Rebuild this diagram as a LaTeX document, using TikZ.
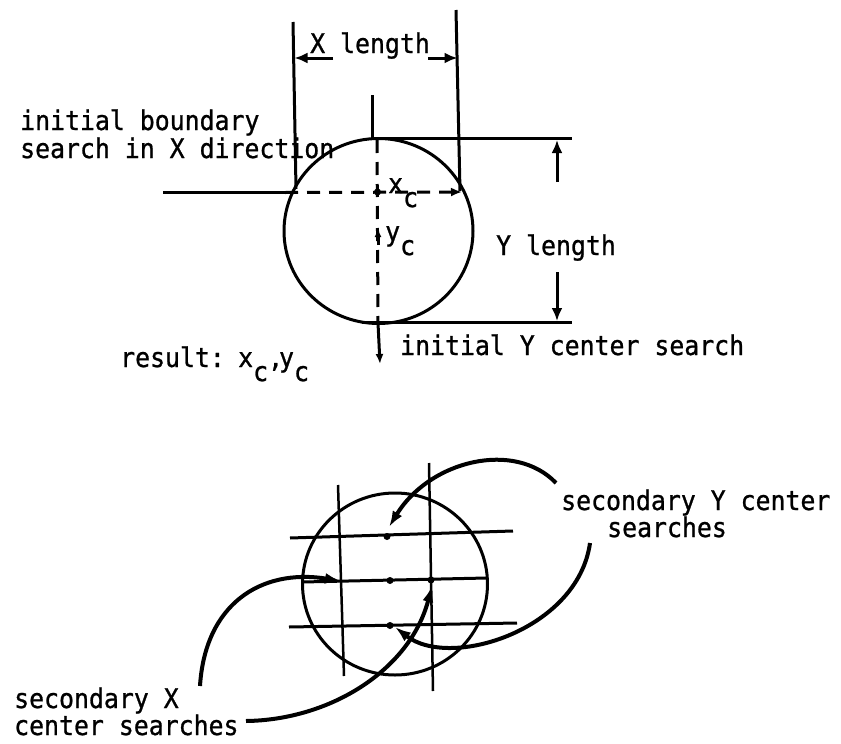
\documentclass[tikz,border=0pt]{standalone}
\usepackage{fontspec}
\newfontfamily\twfont[FakeStretch=0.92,FakeBold=0.9]{DejaVu Sans Mono}
\usetikzlibrary{arrows.meta}
\newcommand{\lowc}{\raisebox{-0.52em}{c}}
\begin{document}
\begin{tikzpicture}[x=1pt,y=-1pt,
  txt/.style={anchor=base west, inner sep=0pt, font=\twfont\fontsize{27}{30}\selectfont},
  ln/.style={line width=3pt},
  thinln/.style={line width=2.5pt},
  tip/.style={-{Latex[length=13pt,width=11pt]}},
  curvearr/.style={line width=4pt, -{Latex[length=16pt,width=11pt]}},
  dsh/.style={line width=3pt, dash pattern=on 13pt off 9pt}]
\useasboundingbox (0,0) rectangle (841,744);

% ---------- upper figure ----------
\coordinate (c1) at (378.5,231);
\draw[ln] (c1) ellipse [x radius=94.5, y radius=92.5];

\coordinate (xlt) at (293,22);  \coordinate (xlb) at (296,189);
\coordinate (xrt) at (456,10);  \coordinate (xrb) at (460,191);
\draw[ln] (xlt) -- (xlb);
\draw[ln] (xrt) -- (xrb);

\coordinate (xla) at (333,58); \coordinate (xlat) at (294.5,58);
\coordinate (xra) at (428,58); \coordinate (xrat) at (457.5,58);
\draw[ln,tip] (xla) -- (xlat);
\draw[ln,tip] (xra) -- (xrat);
\node[txt] (xlen) at (310,53) {X length};

\coordinate (tickt) at (372,95); \coordinate (tickb) at (372,138.5);
\draw[ln] (tickt) -- (tickb);
\coordinate (htl) at (372,138.5); \coordinate (htr) at (572,138.5);
\draw[ln] (htl) -- (htr);
\coordinate (hbl) at (362,322.5); \coordinate (hbr) at (572,322.5);
\draw[ln] (hbl) -- (hbr);

\coordinate (yua) at (557,182); \coordinate (yuat) at (557,140);
\coordinate (yda) at (557,272); \coordinate (ydat) at (557,321);
\draw[ln,tip] (yua) -- (yuat);
\draw[ln,tip] (yda) -- (ydat);
\node[txt] (ylen) at (496,255) {Y length};

\coordinate (bs0) at (163,192.5); \coordinate (bs1) at (285,192.5); \coordinate (bs2) at (462,192);
\draw[ln] (bs0) -- (bs1);
\draw[dsh,-{Latex[length=11pt,width=9pt]}] (bs1) -- (bs2);

\coordinate (vs0) at (377,140); \coordinate (vs1) at (378,323); \coordinate (vs2) at (380,364);
\draw[dsh] (vs0) -- (vs1);
\draw[ln,-{Latex[length=10pt,width=8pt]}] (vs1) -- (vs2);

\coordinate (xcm) at (377.5,192);
\fill (xcm) circle (3.5pt);
\coordinate (ycm0) at (378,245); \coordinate (ycm1) at (378,229);
\draw[ln,-{Latex[length=8pt,width=7pt]}] (ycm0) -- (ycm1);
\node[txt] (xc) at (388,193) {x\lowc};
\node[txt] (yc) at (385,241) {y\lowc};

\node[txt] (ib1) at (20,130) {initial boundary};
\node[txt] (ib2) at (20,158) {search in X direction};
\node[txt] (res) at (120,367) {result:};
\node[txt] (resv) at (238,367) {x\lowc,\kern-4pt y\lowc};
\node[txt] (iy) at (400,355) {initial Y center search};

% ---------- lower figure ----------
\coordinate (c2) at (395,584);
\draw[ln] (c2) ellipse [x radius=92.5, y radius=91];

\coordinate (lvt) at (338,485); \coordinate (lvb) at (344,676);
\coordinate (rvt) at (429,463); \coordinate (rvb) at (433,691);
\draw[thinln] (lvt) -- (lvb);
\draw[thinln] (rvt) -- (rvb);

\coordinate (h1l) at (290,538); \coordinate (h1r) at (513,531);
\coordinate (h2l) at (302,582); \coordinate (h2r) at (487,578);
\coordinate (h3l) at (289,627); \coordinate (h3r) at (517,623);
\draw[ln] (h1l) -- (h1r);
\draw[ln] (h2l) -- (h2r);
\draw[ln] (h3l) -- (h3r);

\coordinate (m1) at (387,536.5);
\coordinate (m2) at (390,580.5);
\coordinate (m3) at (431,580);
\coordinate (m4) at (390,625.5);
\fill (m1) circle (3.5pt);
\fill (m2) circle (3.5pt);
\fill (m3) circle (3.5pt);
\fill (m4) circle (3.5pt);

% secondary Y center searches
\coordinate (ya0) at (556,483); \coordinate (ya1) at (389,527);
\draw[curvearr] (ya0) .. controls (515,440) and (430,460) .. (ya1);
\coordinate (yb0) at (590,543); \coordinate (yb1) at (395,627);
\draw[curvearr] (yb0) .. controls (578,630) and (450,670) .. (yb1);

% secondary X center searches
\coordinate (xa0) at (200,686); \coordinate (xa1) at (341,581);
\draw[curvearr] (xa0) .. controls (205,605) and (260,568) .. (xa1);
\coordinate (xb0) at (246,721); \coordinate (xb1) at (432,586);
\draw[curvearr] (xb0) .. controls (330,720) and (410,670) .. (xb1);

\node[txt] (sy1) at (561,510) {secondary Y center};
\node[txt] (sy2) at (607,537) {searches};
\node[txt] (sx1) at (14,708) {secondary X};
\node[txt] (sx2) at (14,735) {center searches};
\end{tikzpicture}
\end{document}
